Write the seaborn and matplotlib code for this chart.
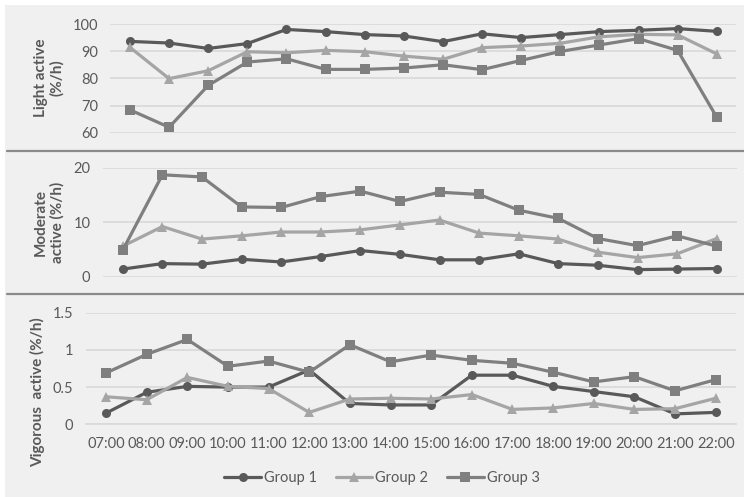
import matplotlib
matplotlib.use("Agg")
import matplotlib.pyplot as plt
import seaborn as sns
import pandas as pd
from matplotlib.patches import Rectangle
from matplotlib.lines import Line2D

hours = ["07:00", "08:00", "09:00", "10:00", "11:00", "12:00", "13:00", "14:00",
         "15:00", "16:00", "17:00", "18:00", "19:00", "20:00", "21:00", "22:00"]
groups = ["Group 1", "Group 2", "Group 3"]

light_g1 = [93.6, 93.0, 91.0, 92.8, 98.0, 97.2, 96.1, 95.6, 93.5, 96.4, 95.0, 96.1, 97.2, 97.7, 98.3, 97.3]
light_g2 = [91.4, 79.9, 82.8, 89.8, 89.4, 90.3, 89.8, 88.2, 87.0, 91.3, 91.9, 92.9, 95.3, 96.2, 96.0, 89.0]
light_g3 = [68.4, 62.0, 77.4, 86.0, 87.2, 83.3, 83.3, 83.8, 85.0, 83.2, 86.6, 89.9, 92.3, 94.6, 90.3, 65.7]

moderate_g1 = [1.4, 2.4, 2.3, 3.2, 2.7, 3.7, 4.8, 4.1, 3.1, 3.1, 4.2, 2.4, 2.1, 1.3, 1.4, 1.5]
moderate_g2 = [5.6, 9.2, 6.9, 7.5, 8.2, 8.2, 8.6, 9.5, 10.4, 8.0, 7.5, 6.9, 4.5, 3.5, 4.2, 7.0]
moderate_g3 = [4.9, 18.7, 18.3, 12.8, 12.7, 14.7, 15.7, 13.8, 15.5, 15.1, 12.2, 10.7, 7.0, 5.7, 7.5, 5.6]

vigorous_g1 = [0.15, 0.43, 0.51, 0.50, 0.50, 0.73, 0.28, 0.26, 0.26, 0.66, 0.66, 0.51, 0.44, 0.37, 0.14, 0.16]
vigorous_g2 = [0.37, 0.33, 0.63, 0.51, 0.48, 0.16, 0.34, 0.35, 0.34, 0.40, 0.20, 0.22, 0.28, 0.20, 0.21, 0.35]
vigorous_g3 = [0.69, 0.94, 1.14, 0.78, 0.85, 0.70, 1.07, 0.84, 0.93, 0.86, 0.82, 0.70, 0.57, 0.64, 0.45, 0.60]

light_ticks = [60, 70, 80, 90, 100]
moderate_ticks = [0, 10, 20]
vigorous_ticks = [0, 0.5, 1, 1.5]
vigorous_labels = ["0", "0.5", "1", "1.5"]

palette = {"Group 1": "#595959", "Group 2": "#a5a5a5", "Group 3": "#7f7f7f"}
markers = {"Group 1": "o", "Group 2": "^", "Group 3": "s"}
BG = "#f0f0f0"
GRID = "#d9d9d9"
TXT = "#595959"

sns.set_theme(style="white")
plt.rcParams["font.family"] = ["Lato", "DejaVu Sans"]


def long_frame(series):
    rows = []
    for g, vals in zip(groups, series):
        for h, v in zip(hours, vals):
            rows.append({"hour": h, "value": v, "group": g})
    return pd.DataFrame(rows)


W, H = 744, 497
fig = plt.figure(figsize=(W / 100, H / 100), dpi=100, facecolor="white")
fig.patches.append(Rectangle((5 / W, 0), 1, 1 - 5 / H, transform=fig.transFigure,
                             facecolor=BG, edgecolor="none", zorder=-10))


def px_axes(left, right, top, bottom):
    return fig.add_axes([left / W, 1 - bottom / H, (right - left) / W, (bottom - top) / H])


panels = [
    (px_axes(110.4, 736.3, 24, 132.7), [light_g1, light_g2, light_g3], (60, 100), light_ticks, None),
    (px_axes(103, 736.5, 167.7, 276.7), [moderate_g1, moderate_g2, moderate_g3], (0, 20), moderate_ticks, None),
    (px_axes(85.7, 736, 312.7, 424.3), [vigorous_g1, vigorous_g2, vigorous_g3], (0, 1.5), vigorous_ticks, vigorous_labels),
]

for i, (ax, series, ylim, yt, ylab) in enumerate(panels):
    df = long_frame(series)
    sns.lineplot(data=df, x="hour", y="value", hue="group", style="group",
                 palette=palette, markers=markers, dashes=False, sort=False,
                 linewidth=2.3, markersize=6.5, markeredgewidth=0,
                 legend=False, ax=ax, zorder=3)
    ax.set_facecolor("none")
    ax.set_xlim(-0.5, len(hours) - 0.5)
    ax.set_ylim(*ylim)
    ax.set_yticks(yt)
    if ylab is not None:
        ax.set_yticklabels(ylab)
    ax.yaxis.grid(True, color=GRID, linewidth=1.2, zorder=0)
    ax.set_axisbelow(True)
    for s in ax.spines.values():
        s.set_visible(False)
    ax.tick_params(axis="y", length=0, pad=9, labelsize=10.5, labelcolor=TXT)
    ax.set_xlabel("")
    ax.set_ylabel("")
    if i < 2:
        ax.set_xticks([])
    else:
        ax.set_xticks(range(len(hours)))
        ax.set_xticklabels(hours)
        ax.set_xticks([k - 0.5 for k in range(len(hours) + 1)], minor=True)
        ax.tick_params(axis="x", which="major", length=0, pad=9, labelsize=10.5, labelcolor=TXT)
        ax.tick_params(axis="x", which="minor", length=4, width=1.2, color=GRID, direction="out")
        ax.spines["bottom"].set_visible(True)
        ax.spines["bottom"].set_color(GRID)
        ax.spines["bottom"].set_linewidth(1.2)

# Axis titles
label_kw = dict(rotation=90, ha="center", va="center", fontsize=11, fontweight="bold",
                color=TXT, multialignment="center", linespacing=1.2)
fig.text(49 / W, 1 - 78 / H, "Light active\n(%/h)", **label_kw)
fig.text(49 / W, 1 - 222 / H, "Moderate\nactive (%/h)", **label_kw)
fig.text(38 / W, 1 - 392 / H, "Vigorous  active (%/h)", **label_kw)

# Panel separators
for yy in (151, 294):
    fig.add_artist(Line2D([7 / W, 1], [1 - yy / H, 1 - yy / H], transform=fig.transFigure,
                          color="#8a8a8a", linewidth=1.6))

handles = [Line2D([], [], color=palette[g], marker=markers[g], linewidth=2.3,
                  markersize=6.5, markeredgewidth=0) for g in groups]
fig.legend(handles, groups, loc="center", bbox_to_anchor=(382 / W, 1 - 478 / H), ncol=3,
           frameon=False, fontsize=10.5, labelcolor=TXT, handlelength=2.5,
           handletextpad=0.2, columnspacing=1.3)

fig.savefig("out.png", dpi=100, facecolor=fig.get_facecolor())
